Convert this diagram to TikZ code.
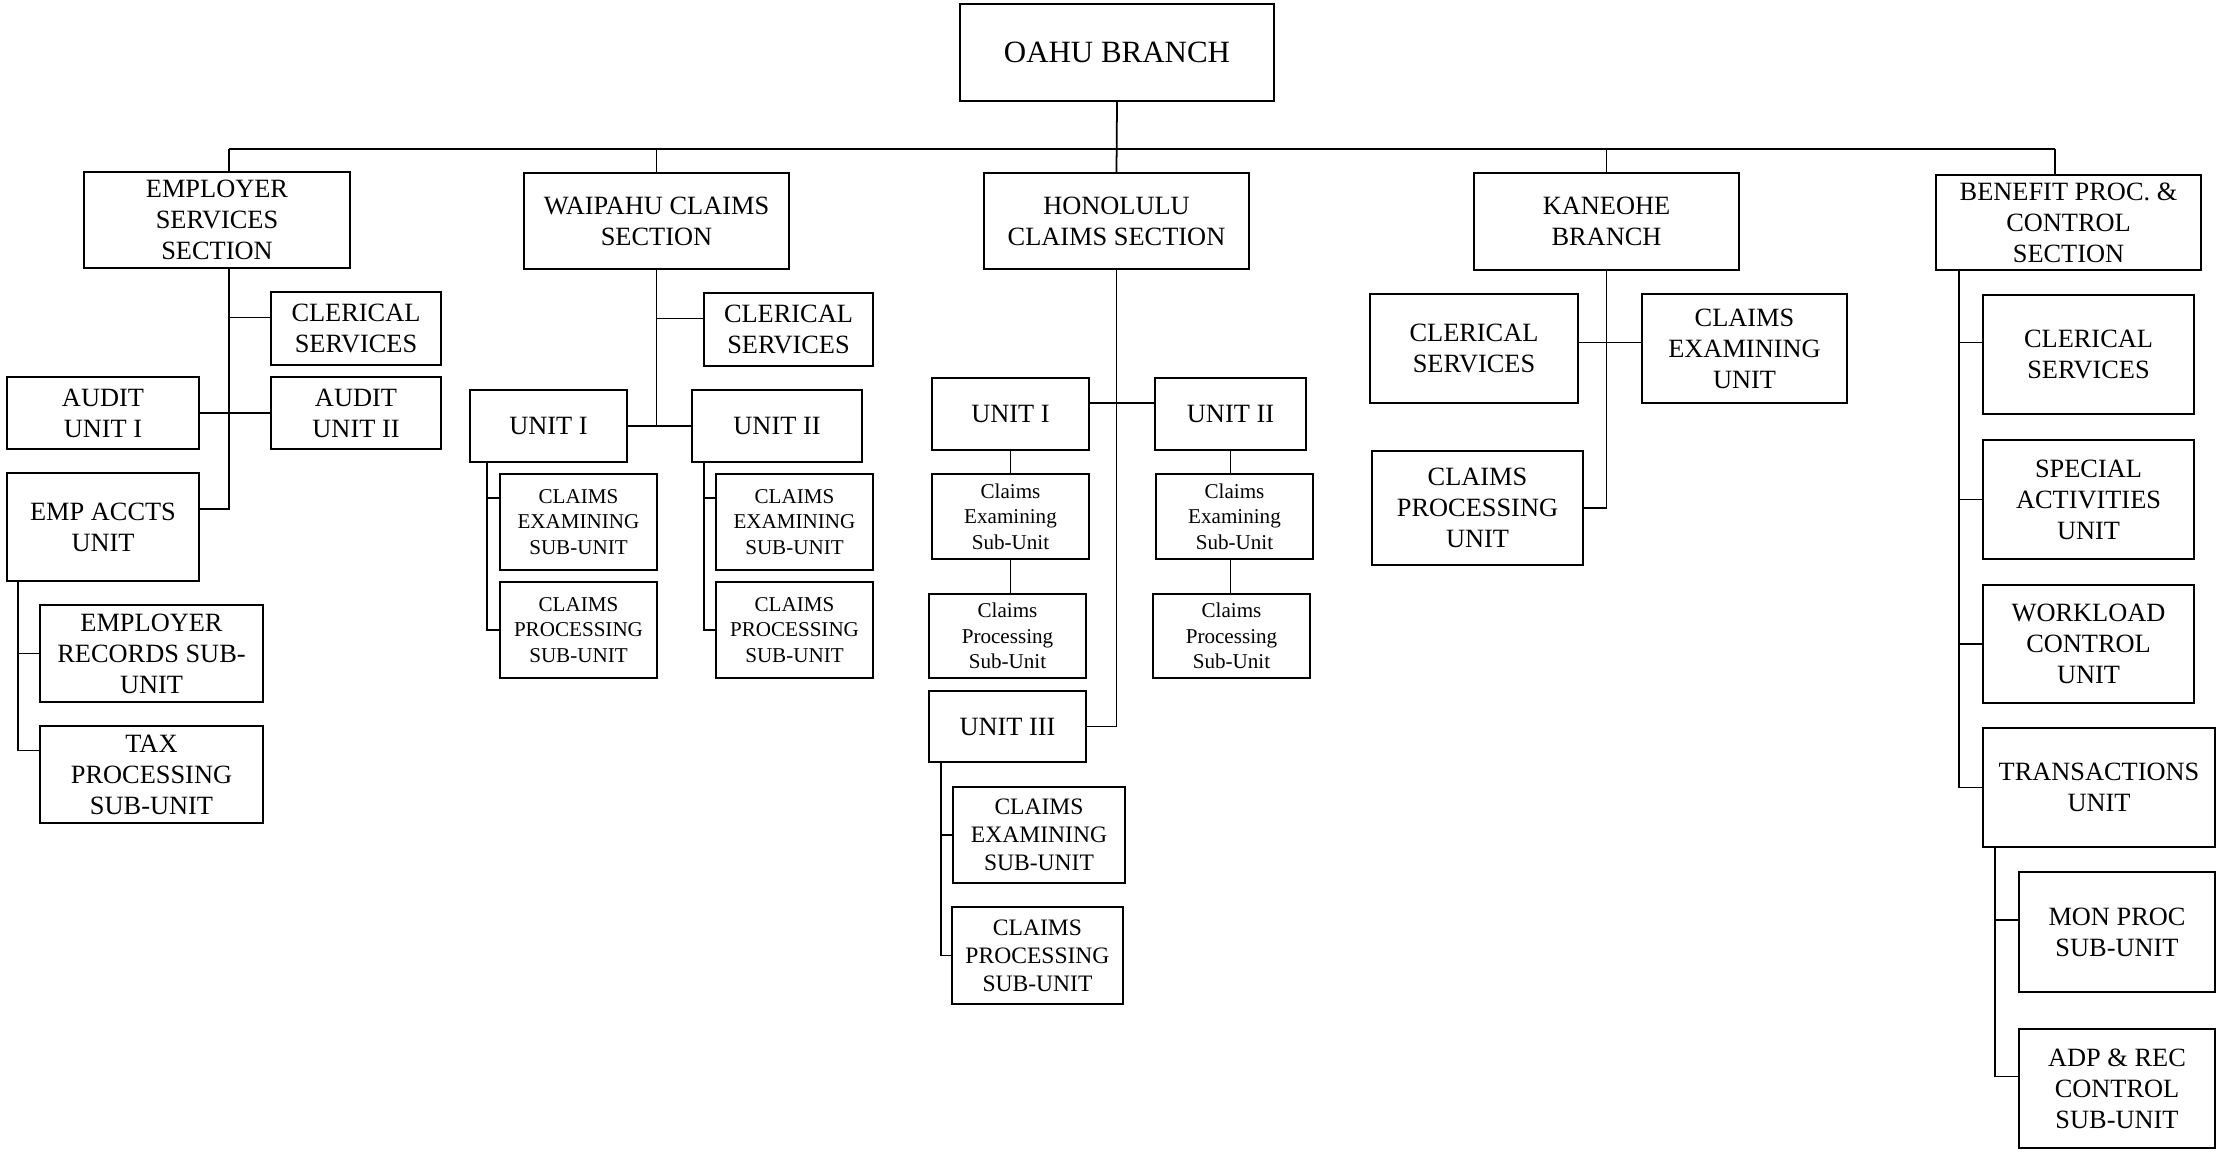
\documentclass[tikz,border=0pt]{standalone}
\usepackage{fontspec}
\setmainfont{Liberation Serif}
\usetikzlibrary{positioning, calc}

\tikzset{
  unit/.style={draw, line width=0.65pt, align=center, inner sep=0pt,
    font=\fontsize{7.5}{8.8}\selectfont},
  subunit/.style={unit, font=\fontsize{6}{7.2}\selectfont},
  sz/.style 2 args={minimum width=#1cm, minimum height=#2cm},
  link/.style={line width=0.5pt},
}

\begin{document}
\begin{tikzpicture}[x=0.01cm, y=-0.01cm]
    \useasboundingbox (0,0) rectangle (2218,1152);

    % Top
    \node[unit, sz={3.14}{0.97}, font=\fontsize{8.8}{10}\selectfont] (oahu) at (1117,52.5) {OAHU BRANCH};

    % Sections
    \node[unit, sz={2.66}{0.96}] (emp) at (217,220) {EMPLOYER\\SERVICES\\SECTION};
    \node[unit, sz={2.65}{0.96}] (wai) at (656.5,221) {WAIPAHU CLAIMS\\SECTION};
    \node[unit, sz={2.65}{0.96}] (hon) at (1116.5,221) {HONOLULU\\CLAIMS SECTION};
    \node[unit, sz={2.65}{0.97}] (kan) at (1606.5,221.5) {KANEOHE\\BRANCH};
    \node[unit, sz={2.65}{0.95}] (ben) at (2068.5,222.5) {BENEFIT PROC. \&\\CONTROL\\SECTION};

    % Bus
    \coordinate (busL) at (229,149);
    \coordinate (busR) at (2055,149);
    \draw[link] (busL) -- (busR);
    \draw[link] (oahu.south) -- (hon.north);
    \draw[link] (busL) -- (busL |- emp.north);
    \draw[link] (wai.north) -- (wai.north |- busL);
    \draw[link] (kan.north) -- (kan.north |- busL);
    \draw[link] (busR) -- (busR |- ben.north);

    % Employer services
    \node[unit, sz={1.70}{0.73}] (empcler) at (356,328.5) {CLERICAL\\SERVICES};
    \node[unit, sz={1.92}{0.72}] (audit1) at (103,413) {AUDIT\\UNIT I};
    \node[unit, sz={1.70}{0.72}] (audit2) at (356,413) {AUDIT\\UNIT II};
    \node[unit, sz={1.92}{1.08}] (empaccts) at (103,527) {EMP ACCTS\\UNIT};
    \node[unit, sz={2.23}{0.97}] (emprec) at (151.5,653.5) {EMPLOYER\\RECORDS SUB-\\UNIT};
    \node[unit, sz={2.23}{0.97}] (emptax) at (151.5,774.5) {TAX\\PROCESSING\\SUB-UNIT};

    \draw[link] (busL |- emp.south) |- ([yshift=0.18cm]empaccts.east);
    \draw[link] ([yshift=0.11cm]empcler.west) -| (busL |- emp.south);
    \draw[link] (audit1.east) -- (audit2.west);
    \draw[link] ([xshift=0.12cm]empaccts.south west) coordinate (empsub) |- ([yshift=0.24cm]emptax.west);
    \draw[link] (empsub |- emprec.west) -- (emprec.west);

    % Waipahu
    \node[unit, sz={1.69}{0.73}] (waicler) at (788.5,329.5) {CLERICAL\\SERVICES};
    \node[unit, sz={1.57}{0.72}] (waiu1) at (548.5,426) {UNIT I};
    \node[unit, sz={1.70}{0.72}] (waiu2) at (777,426) {UNIT II};
    \node[subunit, sz={1.57}{0.96}] (waiu1ce) at (578.5,522) {CLAIMS\\EXAMINING\\SUB-UNIT};
    \node[subunit, sz={1.57}{0.96}] (waiu1cp) at (578.5,630) {CLAIMS\\PROCESSING\\SUB-UNIT};
    \node[subunit, sz={1.57}{0.96}] (waiu2ce) at (794.5,522) {CLAIMS\\EXAMINING\\SUB-UNIT};
    \node[subunit, sz={1.57}{0.96}] (waiu2cp) at (794.5,630) {CLAIMS\\PROCESSING\\SUB-UNIT};

    \draw[link] (wai.south) -- (wai.south |- waiu1.east);
    \draw[link] (waiu1.east) -- (waiu2.west);
    \draw[link] ([yshift=0.11cm]waicler.west) -| (wai.south);
    \draw[link] ([xshift=0.18cm]waiu1.south west) coordinate (wu1) |- (waiu1cp.west);
    \draw[link] ([yshift=0.24cm]waiu1ce.west) -| (wu1);
    \draw[link] ([xshift=0.13cm]waiu2.south west) coordinate (wu2) |- (waiu2cp.west);
    \draw[link] ([yshift=0.24cm]waiu2ce.west) -| (wu2);

    % Honolulu
    \node[unit, sz={1.57}{0.72}] (honu1) at (1010.5,414) {UNIT I};
    \node[unit, sz={1.51}{0.72}] (honu2) at (1230.5,414) {UNIT II};
    \node[subunit, sz={1.57}{0.85}] (honu1ce) at (1010.5,516.5) {Claims\\Examining\\Sub-Unit};
    \node[subunit, sz={1.57}{0.84}] (honu1cp) at (1007.5,636) {Claims\\Processing\\Sub-Unit};
    \node[subunit, sz={1.57}{0.85}] (honu2ce) at (1234.5,516.5) {Claims\\Examining\\Sub-Unit};
    \node[subunit, sz={1.57}{0.84}] (honu2cp) at (1231.5,636) {Claims\\Processing\\Sub-Unit};
    \node[unit, sz={1.57}{0.71}] (honu3) at (1007.5,726.5) {UNIT III};
    \node[unit, sz={1.72}{0.96}, font=\fontsize{6.7}{8}\selectfont] (honu3ce) at (1039,835) {CLAIMS\\EXAMINING\\SUB-UNIT};
    \node[unit, sz={1.71}{0.97}, font=\fontsize{6.7}{8}\selectfont] (honu3cp) at (1037.5,955.5) {CLAIMS\\PROCESSING\\SUB-UNIT};

    \draw[link] (hon.south) |- (honu3.east);
    \draw[link] ([yshift=0.11cm]honu1.east) -- ([yshift=0.11cm]honu2.west);
    \draw[link] (honu1.south) -- (honu1.south |- honu1ce.north);
    \draw[link] (honu1ce.south) -- (honu1ce.south |- honu1cp.north);
    \draw[link] (honu2.south) -- (honu2.south |- honu2ce.north);
    \draw[link] (honu2.south |- honu2ce.south) -- (honu2.south |- honu2cp.north);
    \draw[link] ([xshift=0.13cm]honu3.south west) coordinate (hu3) |- (honu3cp.west);
    \draw[link] (hu3 |- honu3ce.west) -- (honu3ce.west);

    % Kaneohe
    \node[unit, sz={2.08}{1.09}] (kancler) at (1474,348.5) {CLERICAL\\SERVICES};
    \node[unit, sz={2.05}{1.09}] (kance) at (1744.5,348.5) {CLAIMS\\EXAMINING\\UNIT};
    \node[unit, sz={2.11}{1.14}] (kancp) at (1477.5,508) {CLAIMS\\PROCESSING\\UNIT};

    \draw[link] (kan.south) |- (kancp.east);
    \draw[link] ([yshift=0.06cm]kancler.east) -- ([yshift=0.06cm]kance.west);

    % Benefit proc. & control
    \node[unit, sz={2.11}{1.19}] (bencler) at (2088.5,354.5) {CLERICAL\\SERVICES};
    \node[unit, sz={2.11}{1.19}] (benspec) at (2088.5,499.5) {SPECIAL\\ACTIVITIES\\UNIT};
    \node[unit, sz={2.11}{1.18}] (benwork) at (2088.5,644) {WORKLOAD\\CONTROL\\UNIT};
    \node[unit, sz={2.32}{1.19}] (bentrans) at (2099,787.5) {TRANSACTIONS\\UNIT};
    \node[unit, sz={1.96}{1.20}] (benmon) at (2117,932) {MON PROC\\SUB-UNIT};
    \node[unit, sz={1.96}{1.19}] (benadp) at (2117,1088.5) {ADP \& REC\\CONTROL\\SUB-UNIT};

    \draw[link] ([xshift=0.24cm]ben.south west) coordinate (bt) |- (bentrans.west);
    \draw[link] ([yshift=0.12cm]bencler.west) -| (bt);
    \foreach \n in {benspec, benwork}
        \draw[link] (bt |- \n.west) -- (\n.west);
    \draw[link] ([xshift=0.13cm]bentrans.south west) coordinate (bs) |- ([yshift=0.12cm]benadp.west);
    \draw[link] ([yshift=0.12cm]benmon.west) -| (bs);
\end{tikzpicture}
\end{document}
